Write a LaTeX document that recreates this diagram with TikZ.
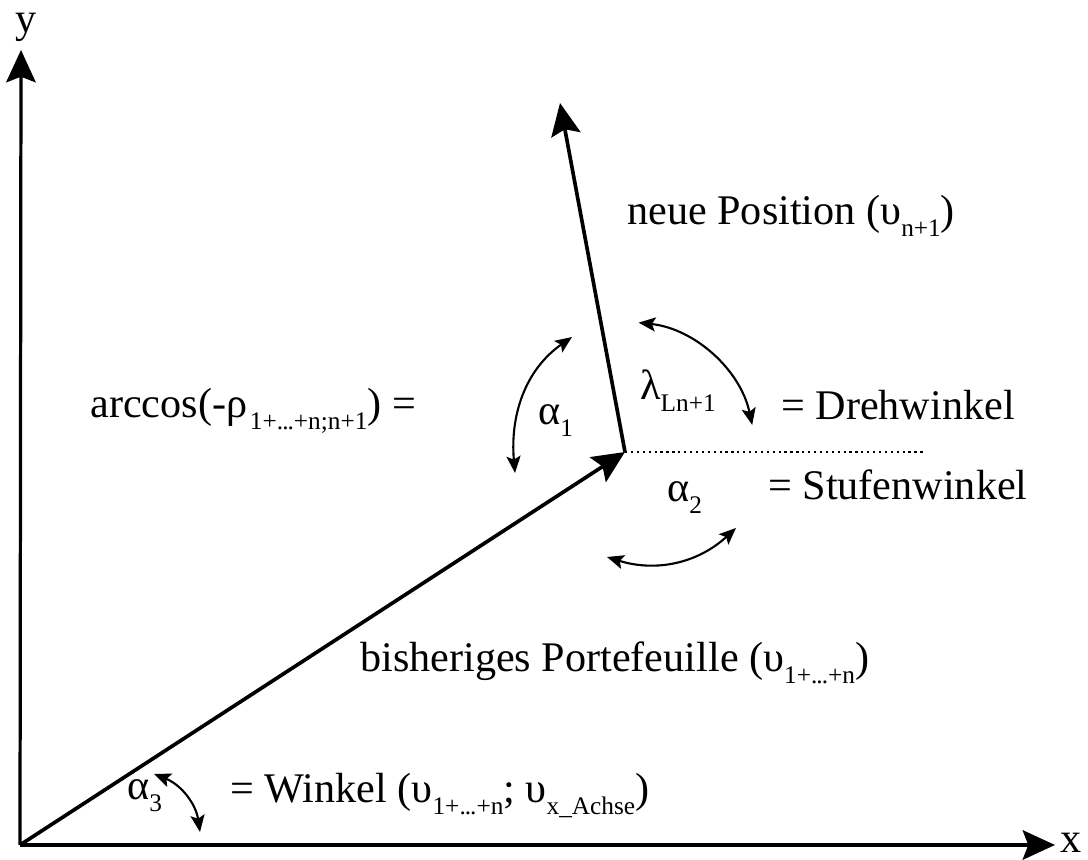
\documentclass[tikz,border=0pt]{standalone}
\usepackage{fontspec}
\setmainfont{Liberation Serif}
\usetikzlibrary{
  arrows.meta,
  calc
}

\newcommand{\tief}[1]{\raisebox{-8pt}{\fontsize{18}{20}\selectfont #1}}
\newcommand{\pkte}{.\kern-0.7pt.\kern-0.7pt.}

\begin{document}
\begin{tikzpicture}[
    x=0.025cm,
    y=0.025cm,
    >={Stealth[length=23pt,width=21pt,inset=4pt]},
    achse/.style={->,line width=2.3pt},
    vektor/.style={->,line width=2.6pt},
    bogen/.style={{Stealth[length=12pt,width=10pt,inset=2.5pt]}-{Stealth[length=12pt,width=10pt,inset=2.5pt]},line width=1.5pt},
    txt/.style={inner sep=0pt,anchor=base west,font=\fontsize{30}{36}\selectfont}
    ]

    \useasboundingbox (0,0) rectangle (1088,860);

    \coordinate (O) at (20,15);
    \coordinate (Xe) at (1055,15);
    \coordinate (Ye) at (21,810);
    \coordinate (P) at (625,408);
    \coordinate (N) at (560,757);
    \coordinate (D) at (925,408);

    % Achsen
    \draw[achse] (O)--(Xe);
    \draw[achse] (O)--(Ye);
    \node[txt,anchor=center] (xl) at (1071,17) {x};
    \node[txt,anchor=center] (yl) at (26,833) {y};

    % Vektoren
    \draw[vektor] (O)--(P);
    \draw[vektor] (P)--(N);
    \draw[line width=1.6pt,dash pattern=on 1.6pt off 2.6pt] (P)--(D);

    % Winkel
    \coordinate (a1o) at (572,523);
    \coordinate (a1u) at (515,387);
    \coordinate (a2l) at (607,303);
    \coordinate (a2r) at (736,332);
    \coordinate (a3o) at (154,86);
    \coordinate (a3u) at (200,28);
    \draw[bogen] ($(P)+(84:3.25cm)$) arc[start angle=84,end angle=12,radius=3.25cm];
    \draw[bogen] (a1o) to[out=215,in=95] (a1u);
    \draw[bogen] (a2l) to[bend right=30] (a2r);
    \draw[bogen] (a3o) to[bend left=30] (a3u);

    % Texte
    \node[txt] (neu) at (627,635) {neue Position (υ\tief{n+1})};
    \node[txt] (arccos) at (90,442) {arccos(-ρ\kern2pt\tief{1+\pkte+n;n+1}) =};
    \node[txt] (a1) at (538,435) {α\tief{1}};
    \node[txt] (lam) at (640,460) {λ\tief{Ln+1}};
    \node[txt] (dreh) at (781,440) {= Drehwinkel};
    \node[txt] (a2) at (667,358) {α\tief{2}};
    \node[txt] (stufe) at (768,360) {= Stufenwinkel};
    \node[txt] (bish) at (360,188) {bisheriges Portefeuille (υ\tief{1+\pkte+n})};
    \node[txt] (a3) at (127,60) {α\tief{3}};
    \node[txt] (wink) at (230,57) {= Winkel (υ\tief{1+\pkte+n}; υ\tief{x\_Achse})};

\end{tikzpicture}
\end{document}
